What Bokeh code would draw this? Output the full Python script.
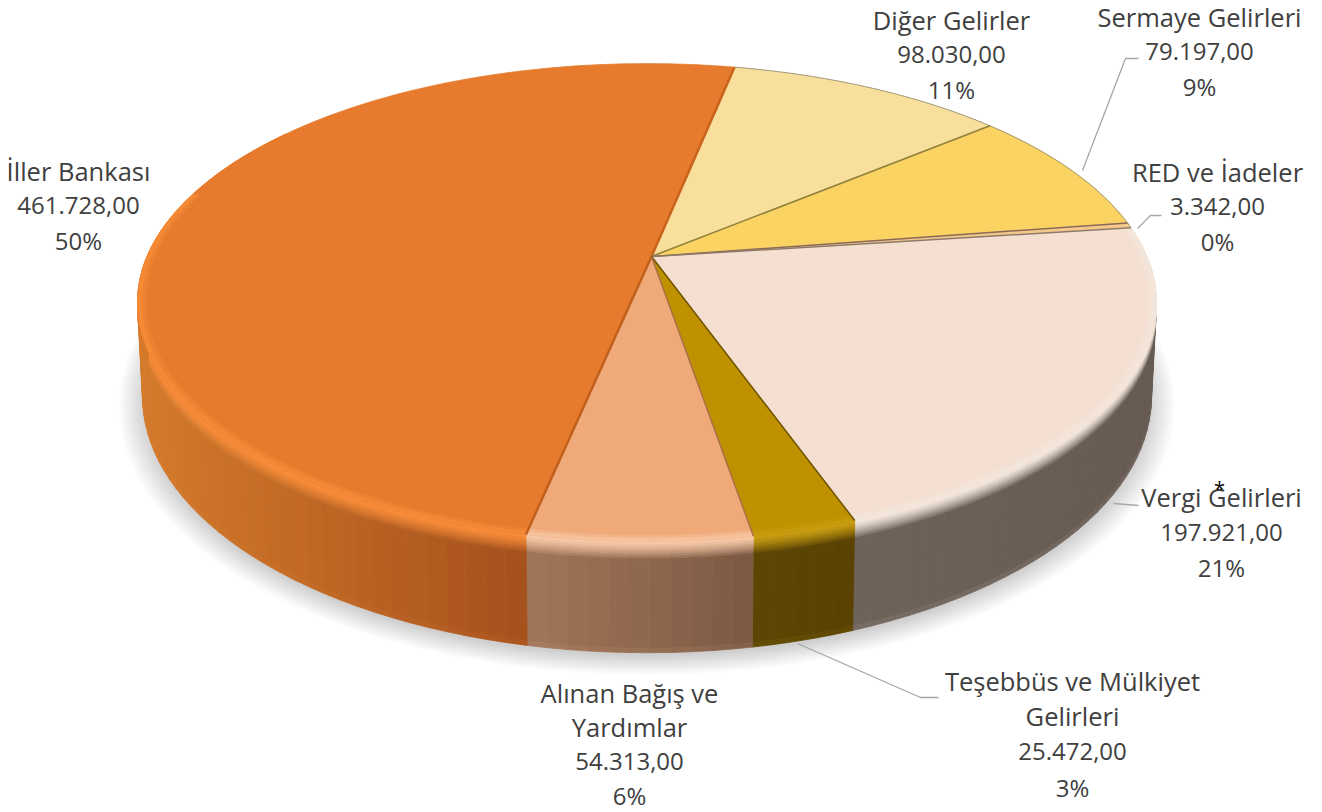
import math
from bokeh.plotting import figure
from bokeh.models import ColumnDataSource, Range1d
from bokeh.core.properties import value
from bokeh.embed import file_html
from bokeh.resources import INLINE

# ---- data (clockwise from the first slice) ----
categories = ["Diğer Gelirler", "Sermaye Gelirleri", "RED ve İadeler", "Vergi Gelirleri",
              "Teşebbüs ve Mülkiyet Gelirleri", "Alınan Bağış ve Yardımlar", "İller Bankası"]
values = [98030, 79197, 3342, 197921, 25472, 54313, 461728]
value_labels = ["98.030,00", "79.197,00", "3.342,00", "197.921,00", "25.472,00", "54.313,00", "461.728,00"]
percent_labels = ["11%", "9%", "0%", "21%", "3%", "6%", "50%"]
label_lines = [["Diğer Gelirler"], ["Sermaye Gelirleri"], ["RED ve İadeler"], ["Vergi Gelirleri"],
               ["Teşebbüs ve Mülkiyet", "Gelirleri"], ["Alınan Bağış ve", "Yardımlar"], ["İller Bankası"]]

# ---- styles ----
top_col = ["#f8e09c", "#fbd362", "#f3c88a", "#f4dfd1", "#bf9000", "#f0aa79", "#e67b2d"]
hi_col = ["#f8e09c", "#fbd362", "#f3c88a", "#f3e6dc", "#c89c10", "#f7c8a6", "#f88c38"]
wall_l = ["#8a7a50", "#8a7436", "#85694a", "#6f6259", "#5e4704", "#a27658", "#d47a2b"]
wall_r = ["#8a7a50", "#8a7436", "#85694a", "#665a52", "#594202", "#7c5943", "#a5511d"]
sep_col = ["#c8621c", "#8f7f3c", "#8b6a58", "#8f7a68", "#6f5500", "#a87040", "#c0601c"]
sep_w = [2.5, 1.5, 1.5, 1.5, 1.5, 1.5, 2.5]

# ---- geometry of the perspective disc ----
CX, CY, RX, RY, K, DX = 651.0, 256.0, 500.0, 230.0, 0.1925, -4.5
CY2, RX2, RY2 = 347.0, 495.0, 246.5
START = 12.0


def pt(a, r=1.0, z=0.0):
    t = math.radians(a)
    c, s = math.sin(t), -math.cos(t)
    f = 1.0 / (1.0 - K * r * s)
    rx = RX + (RX2 - RX) * z
    ry = RY + (RY2 - RY) * z
    cy = CY + (CY2 - CY) * z
    return CX + DX * r + rx * r * c * f, cy + ry * r * s * f


def hex2(c):
    return [int(c[i:i + 2], 16) for i in (1, 3, 5)]


def mix(a, b, w):
    A, B = hex2(a), hex2(b)
    return "#%02x%02x%02x" % tuple(round(A[i] + (B[i] - A[i]) * w) for i in range(3))


def steps(a0, a1, d=2.0):
    n = max(1, int(math.ceil((a1 - a0) / d)))
    return [a0 + (a1 - a0) * i / n for i in range(n + 1)]


total = sum(values)
bounds = [START]
for v in values:
    bounds.append(bounds[-1] + 360.0 * v / total)

p = figure(width=1322, height=812, x_range=Range1d(0, 1322), y_range=Range1d(812, 0),
           toolbar_location=None, output_backend="svg", min_border=0,
           outline_line_color=None, background_fill_color="white", border_fill_color="white")
p.axis.visible = False
p.grid.visible = False

# soft shadow under the disc
N_SH = 16
for i in range(N_SH):
    r = 1.045 - 0.05 * i / (N_SH - 1)
    angs = steps(0, 360, 3)
    xy = [pt(a, r, 1.0) for a in angs]
    p.patch([q[0] for q in xy], [q[1] + 5 for q in xy], fill_color="#666666",
            fill_alpha=0.018, line_color=None)


def quads(xs, ys, cols):
    src = ColumnDataSource(dict(xs=xs, ys=ys, c=cols))
    p.patches("xs", "ys", source=src, fill_color="c", line_color="c", line_width=0.8)


# side walls and rim
xs, ys, cols = [], [], []
N_B = 8
BEV = 0.17
bands = [(BEV, 0.96, None), (0.96, 1.0, 0.93)]
for j in reversed(range(N_B)):
    bands.append((BEV * j / N_B, BEV * (j + 1) / N_B, (j / (N_B - 1)) ** 1.3))
for i in range(len(values)):
    a0, a1 = bounds[i], bounds[i + 1]
    angs = steps(a0, a1)
    xvals = [pt(a)[0] for a in angs if -math.cos(math.radians(a)) > -0.6]
    if not xvals:
        continue
    xmin, xmax = min(xvals), max(xvals)
    for a, b in zip(angs[:-1], angs[1:]):
        m = (a + b) / 2
        if -math.cos(math.radians(m)) < -0.6:
            continue
        xf = (pt(m)[0] - xmin) / max(1.0, xmax - xmin)
        wall = mix(wall_l[i], wall_r[i], xf)
        for z0, z1, w in bands:
            col = wall if w is None else mix(hi_col[i], wall, w)
            q = [pt(a, 1, z0), pt(b, 1, z0), pt(b, 1, z1), pt(a, 1, z1)]
            xs.append([u[0] for u in q])
            ys.append([u[1] for u in q])
            cols.append(col)
quads(xs, ys, cols)

# top faces
xs, ys, cols = [], [], []
for i in range(len(values)):
    angs = steps(bounds[i], bounds[i + 1], 1.0)
    q = [(CX, CY)] + [pt(a) for a in angs]
    xs.append([u[0] for u in q])
    ys.append([u[1] for u in q])
    cols.append(top_col[i])
quads(xs, ys, cols)

# inner bevel of the top face, toward the viewer
xs, ys, cols = [], [], []
inner = [(0.984, 0.992, 0.4), (0.992, 1.0, 0.8)]
for i in range(len(values)):
    angs = steps(bounds[i], bounds[i + 1])
    for a, b in zip(angs[:-1], angs[1:]):
        s = -math.cos(math.radians((a + b) / 2))
        if s < -0.3:
            continue
        for r0, r1, w in inner:
            q = [pt(a, r0), pt(b, r0), pt(b, r1), pt(a, r1)]
            xs.append([u[0] for u in q])
            ys.append([u[1] for u in q])
            cols.append(mix(top_col[i], hi_col[i], w))
quads(xs, ys, cols)

# rim line on the back part and separators
for i in range(3):
    q = [pt(a) for a in steps(bounds[i], bounds[i + 1], 1.0)]
    p.line([u[0] for u in q], [u[1] for u in q], line_color="#a09a80", line_width=1)
for i in range(len(values)):
    e = pt(bounds[i])
    p.line([CX, e[0]], [CY, e[1]], line_color=sep_col[i], line_width=sep_w[i])

# leader lines
leaders = [([1082, 1125, 1138], [170, 58, 58]),
           ([1137, 1150, 1161], [228, 215, 215]),
           ([1113, 1138], [503, 505]),
           ([797, 920, 938], [643, 697, 697])]
for lx, ly in leaders:
    p.line(lx, ly, line_color="#a6a6a6", line_width=1.3)

# labels
label_pos = [(951, 19), (1199, 16), (1217, 171), (1221, 496), (1072, 680), (629, 692), (78, 170)]
STEP = [35.0, 35.0, 35.0, 35.5, 35.5, 34.3, 35.0]
wx, wy, wt, nx, ny, nt = [], [], [], [], [], []
for i, (x0, y0) in enumerate(label_pos):
    k = len(label_lines[i])
    for j, s in enumerate(label_lines[i]):
        wx.append(x0)
        wy.append(y0 + j * STEP[i])
        wt.append(s)
    for j, s in enumerate([value_labels[i], percent_labels[i]]):
        nx.append(x0)
        ny.append(y0 + (k + j) * STEP[i])
        nt.append(s)
p.text(wx, wy, text=wt, text_font=value("Open Sans"), text_font_size="25.5px", text_color="#404040",
       text_align="center", text_baseline="middle")
p.text(nx, ny, text=nt, text_font=value("Open Sans"), text_font_size="24px", text_color="#404040",
       text_align="center", text_baseline="middle")
p.text([1219], [488], text=["*"], text_font=value("Open Sans"), text_font_size="20px", text_color="#000000",
       text_align="center", text_baseline="middle")

open("out.html", "w").write(file_html(p, INLINE))
